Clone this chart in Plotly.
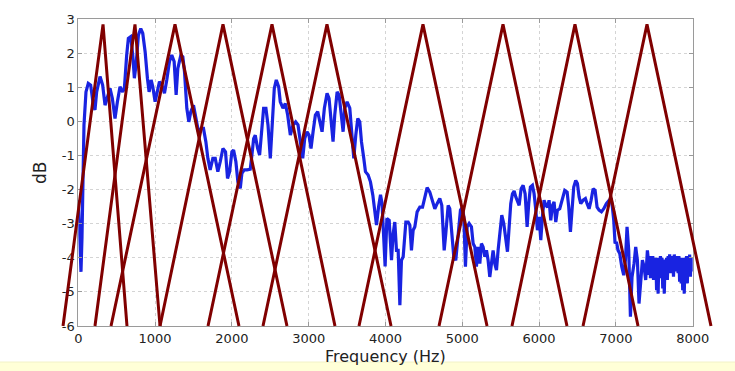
import plotly.graph_objects as go

# ---------------- data ----------------
freq_hz = [0, 15, 35, 48, 57, 74, 100, 130, 161, 196, 217, 239, 283, 317, 348, 378, 413, 443, 478, 509,
           543, 578, 600, 630, 652, 683, 709, 730, 752, 783, 813, 839, 870, 900, 922, 948, 970, 1000, 1030, 1057,
           1087, 1122, 1152, 1187, 1217, 1248, 1274, 1296, 1335, 1361, 1383, 1413, 1439, 1465, 1500, 1535, 1565, 1600, 1630, 1661,
           1687, 1717, 1752, 1783, 1817, 1848, 1883, 1917, 1943, 1970, 2000, 2022, 2052, 2078, 2109, 2130, 2161, 2196, 2239, 2261,
           2283, 2304, 2335, 2361, 2383, 2413, 2443, 2470, 2500, 2522, 2552, 2578, 2609, 2630, 2665, 2696, 2726, 2761, 2796, 2830,
           2861, 2891, 2922, 2948, 2978, 3004, 3030, 3057, 3087, 3117, 3143, 3174, 3204, 3239, 3265, 3296, 3317, 3339, 3370, 3396,
           3422, 3448, 3470, 3500, 3535, 3565, 3587, 3613, 3639, 3665, 3687, 3717, 3739, 3774, 3804, 3835, 3857, 3883, 3910, 3935,
           3955, 3975, 3995, 4018, 4048, 4078, 4100, 4121, 4143, 4165, 4187, 4208, 4230, 4265, 4295, 4317, 4338, 4360, 4382, 4412,
           4447, 4482, 4512, 4542, 4577, 4612, 4642, 4672, 4707, 4733, 4764, 4785, 4816, 4837, 4859, 4889, 4915, 4946, 4976, 5002,
           5020, 5041, 5063, 5089, 5119, 5141, 5163, 5184, 5206, 5228, 5249, 5271, 5293, 5315, 5336, 5358, 5380, 5401, 5423, 5445,
           5466, 5488, 5514, 5540, 5566, 5588, 5610, 5631, 5653, 5675, 5696, 5718, 5740, 5766, 5792, 5818, 5844, 5865, 5887, 5913,
           5935, 5957, 5978, 6000, 6022, 6043, 6065, 6087, 6109, 6130, 6152, 6174, 6195, 6217, 6239, 6269, 6304, 6334, 6365, 6386,
           6408, 6430, 6451, 6477, 6499, 6521, 6542, 6573, 6603, 6625, 6651, 6677, 6703, 6729, 6755, 6781, 6812, 6842, 6876, 6911,
           6937, 6954, 6972, 6989, 7007, 7028, 7050, 7076, 7102, 7124, 7145, 7167, 7189, 7210, 7236, 7258, 7280, 7301, 7323, 7345,
           7367, 7388, 7410, 7420, 7430, 7440, 7450, 7460, 7470, 7480, 7490, 7500, 7510, 7520, 7530, 7540, 7550, 7560, 7570, 7580,
           7590, 7600, 7610, 7620, 7630, 7640, 7650, 7660, 7670, 7680, 7690, 7700, 7710, 7720, 7730, 7740, 7750, 7760, 7770, 7780,
           7790, 7800, 7810, 7820, 7830, 7840, 7850, 7860, 7870, 7880, 7890, 7900, 7910, 7920, 7930, 7940, 7950, 7960, 7970, 7980,
           7990, 8000]

level_db = [-2.3, -3.2, -4.41, -3.4, -2.16, -0.10, 0.87, 1.12, 1.07, 0.48, 0.34, 0.87, 1.32, 1.07, 0.48, 0.68, 0.97, 0.68, 0.09, 0.58,
            1.02, 0.87, 0.97, 1.95, 2.44, 2.49, 1.95, 1.27, 1.66, 2.54, 2.73, 2.59, 2.05, 1.27, 0.87, 1.22, 1.02, 0.58, 0.87, 1.17,
            1.07, 0.83, 1.22, 1.76, 1.95, 1.76, 0.78, 1.56, 1.95, 1.90, 1.46, 0.39, -0.01, 0.29, 0.48, 0.09, -0.30, -0.20, -0.20, -0.59,
            -1.08, -1.42, -1.08, -1.08, -1.47, -1.18, -0.79, -0.89, -1.67, -1.47, -0.89, -0.84, -1.18, -1.77, -1.96, -1.52, -1.42, -1.42, -1.40, -0.98,
            -0.50, -0.40, -0.79, -0.98, -0.30, 0.39, 0.39, -0.10, -1.08, -0.10, 0.97, 1.22, 1.02, 0.58, 0.39, 0.53, 0.19, -0.40, -0.10, -0.01,
            -0.10, -0.59, -1.08, -0.50, -0.30, -0.40, -0.79, -0.30, 0.19, 0.29, -0.01, -0.30, 0.39, 0.83, 0.68, -0.10, -0.59, 0.19, 0.87, 0.78,
            0.19, -0.30, 0.39, 0.58, 0.39, -0.59, -1.08, -0.40, 0.09, -0.01, -0.59, -1.08, -1.47, -1.57, -1.77, -2.16, -2.65, -3.04, -2.50, -2.15,
            -2.40, -3.50, -4.25, -2.85, -2.90, -4.07, -3.29, -2.95, -3.78, -3.78, -5.39, -4.07, -3.97, -2.95, -2.95, -3.04, -3.78, -3.19, -3.09, -2.65,
            -2.51, -2.51, -2.21, -1.94, -2.07, -2.36, -2.56, -2.41, -2.26, -2.46, -3.78, -3.29, -2.46, -2.56, -3.09, -3.97, -4.07, -3.29, -2.60, -2.51,
            -2.80, -4.26, -3.09, -2.99, -3.09, -3.58, -3.68, -4.26, -3.68, -4.17, -3.58, -3.68, -3.97, -3.78, -4.07, -4.56, -4.07, -3.78, -4.17, -4.36,
            -3.78, -3.29, -2.75, -2.99, -3.39, -3.82, -3.09, -2.41, -2.12, -2.04, -2.21, -2.36, -2.46, -1.97, -1.87, -2.12, -3.09, -2.41, -1.92, -1.87,
            -2.12, -2.60, -3.19, -2.80, -3.48, -2.80, -2.31, -2.46, -2.51, -2.31, -2.90, -2.46, -2.36, -2.95, -2.60, -2.56, -2.31, -2.02, -2.07, -2.51,
            -3.24, -2.41, -1.92, -1.73, -1.82, -2.21, -2.41, -2.31, -2.26, -2.41, -2.56, -2.31, -1.97, -2.02, -2.51, -2.60, -2.65, -2.56, -2.41, -2.31,
            -2.26, -2.51, -2.90, -3.58, -3.53, -3.78, -3.87, -4.26, -4.51, -4.07, -3.09, -3.78, -5.73, -4.56, -4.17, -3.68, -4.07, -5.34, -4.56, -4.07,
            -4.26, -4.65, -3.78, -4.00, -4.50, -3.95, -4.60, -4.00, -4.55, -3.95, -4.65, -4.05, -4.50, -4.00, -4.95, -4.10, -5.05, -4.00, -4.60, -3.95,
            -4.50, -4.00, -4.90, -4.05, -5.05, -4.10, -4.60, -4.00, -4.65, -3.95, -4.40, -3.90, -4.45, -4.00, -4.40, -3.95, -4.55, -3.90, -4.40, -3.95,
            -4.35, -4.00, -4.45, -3.95, -4.70, -4.05, -4.75, -4.00, -4.95, -4.10, -5.05, -4.00, -4.60, -3.95, -4.75, -4.00, -4.50, -3.90, -4.55, -4.00,
            -4.40, -4.00]

# triangular filters (Hz): left foot, peak, right foot
tri_left = [-199, 217, 426, 1064, 1689, 2405, 3655, 4697, 5647, 6572]
tri_peak = [322, 738, 1259, 1884, 2522, 3238, 4488, 5530, 6467, 7405]
tri_right = [634, 1064, 2092, 2717, 3342, 4072, 5322, 6363, 7288, 8238]
tri_base = -6.0
tri_top = 2.85

x_ticks = [0, 1000, 2000, 3000, 4000, 5000, 6000, 7000, 8000]
y_ticks = [3, 2, 1, 0, -1, -2, -3, -4, -5, -6]
x_range = [0, 8000]
y_range = [-6, 3]

# ---------------- layout geometry ----------------
W, H = 735, 371
px_left, px_right = 78.3, 692.7
py_top, py_bottom = 19.3, 326.0
xdom = [px_left / W, px_right / W]
ydom = [(H - py_bottom) / H, (H - py_top) / H]

# overlay axes spanning whole figure with identical scale (so filter lines are not clipped)
sx = (x_range[1] - x_range[0]) / (px_right - px_left)
sy = (y_range[1] - y_range[0]) / (py_bottom - py_top)
x2_range = [x_range[0] - px_left * sx, x_range[0] + (W - px_left) * sx]
y2_range = [y_range[0] - (H - py_bottom) * sy, y_range[1] + py_top * sy]

fig = go.Figure()
fig.add_trace(go.Scatter(x=freq_hz, y=level_db, mode="lines",
                         line=dict(color="rgb(25,35,225)", width=3.2),
                         xaxis="x", yaxis="y", showlegend=False))

for L, P, R in zip(tri_left, tri_peak, tri_right):
    fig.add_trace(go.Scatter(x=[L, P, R], y=[tri_base, tri_top, tri_base], mode="lines",
                             line=dict(color="rgb(128,0,0)", width=3),
                             xaxis="x2", yaxis="y2", showlegend=False))

tick_font = dict(family="DejaVu Sans", size=13, color="#222")
band_top = 362
fig.update_layout(
    width=W, height=H,
    margin=dict(l=0, r=0, t=0, b=0, pad=0),
    paper_bgcolor="white",
    plot_bgcolor="rgba(0,0,0,0)",
    template="none",
    xaxis=dict(domain=xdom, range=x_range, tickvals=x_ticks, ticktext=[str(v) for v in x_ticks],
               showgrid=True, gridcolor="#d4d4d4", griddash="dot", gridwidth=1,
               zeroline=False, showline=True, linecolor="#9a9a9a", linewidth=1, mirror="ticks",
               ticks="inside", ticklen=4, tickcolor="#9a9a9a", tickfont=tick_font, automargin=False,
               anchor="y", fixedrange=True, ticklabelstandoff=0),
    yaxis=dict(domain=ydom, range=y_range, tickvals=y_ticks, ticktext=[str(v) for v in y_ticks],
               showgrid=True, gridcolor="#d4d4d4", griddash="dot", gridwidth=1,
               zeroline=False, showline=True, linecolor="#9a9a9a", linewidth=1, mirror="ticks",
               ticks="inside", ticklen=4, tickcolor="#9a9a9a", tickfont=tick_font, automargin=False,
               anchor="x", fixedrange=True),
    xaxis2=dict(domain=[0, 1], range=x2_range, visible=False, anchor="y2", fixedrange=True),
    yaxis2=dict(domain=[0, 1], range=y2_range, visible=False, anchor="x2", fixedrange=True),
    shapes=[dict(type="rect", xref="paper", yref="paper", x0=0, x1=1, y0=0, y1=(H - band_top) / H,
                 fillcolor="rgb(255,255,215)", line=dict(width=0), layer="below"),
            dict(type="line", xref="paper", yref="paper", x0=0, x1=1,
                 y0=(H - band_top) / H, y1=(H - band_top) / H,
                 line=dict(color="rgb(242,242,200)", width=1), layer="below")],
    annotations=[
        dict(text="Frequency (Hz)", xref="paper", yref="paper", x=(px_left + px_right) / 2 / W,
             y=(H - 356) / H, xanchor="center", yanchor="middle", showarrow=False,
             font=dict(family="DejaVu Sans", size=16, color="#222")),
        dict(text="dB", xref="paper", yref="paper", x=40 / W, y=(H - 173) / H, textangle=-90,
             xanchor="center", yanchor="middle", showarrow=False,
             font=dict(family="DejaVu Sans", size=17, color="#222")),
    ],
)

fig.write_html("out.html", config={"displayModeBar": False},
               post_script="document.body.style.margin='0px';document.body.style.overflow='hidden';")
